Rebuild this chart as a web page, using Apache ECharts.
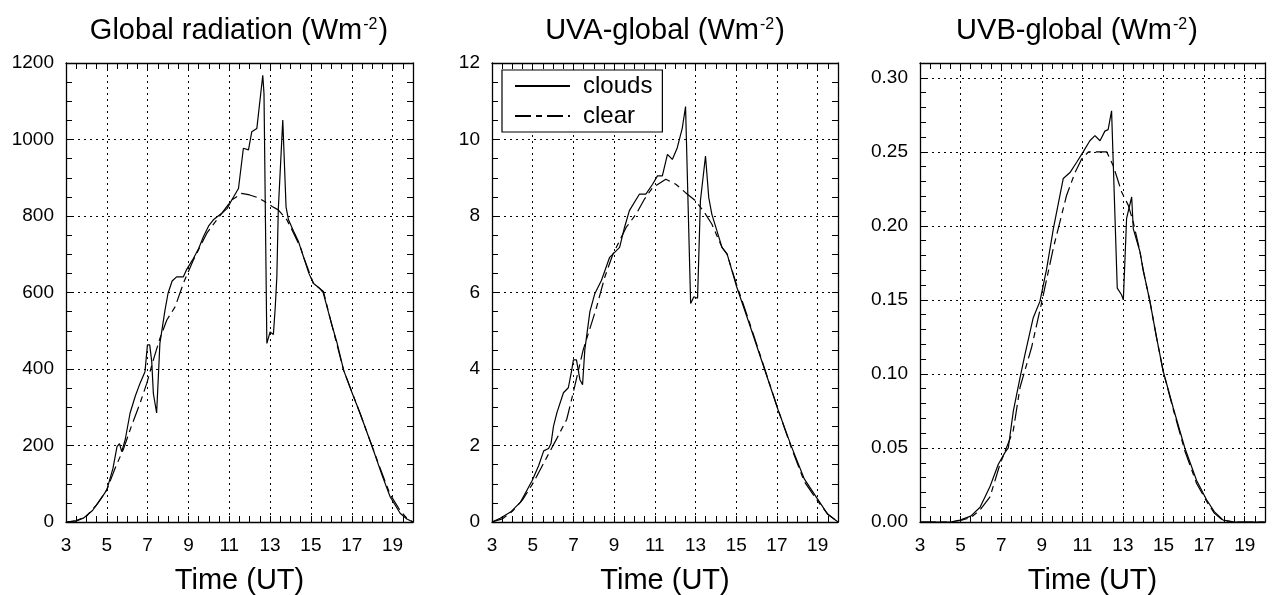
<!DOCTYPE html>
<html>
<head>
<meta charset="utf-8">
<script src="https://cdn.jsdelivr.net/npm/echarts@6/dist/echarts.min.js"></script>
<style>html,body{margin:0;padding:0;background:#fff}#c{width:1272px;height:595px}</style>
</head>
<body>
<div id="c"></div>
<script>
// ---------- DATA ----------
const titles = ['Global radiation (Wm', 'UVA-global (Wm', 'UVB-global (Wm'];
const seriesNames = ['clouds', 'clear'];

// Global radiation
const globCloudsT = [3.0,3.5,3.85,4.3,4.7,5.0,5.3,5.5,5.62,5.73,5.9,6.14,6.4,6.63,6.87,6.99,7.1,7.2,7.28,7.44,7.6,7.85,8.0,8.2,8.42,8.75,8.9,9.24,9.5,9.73,10.0,10.22,10.63,10.9,11.12,11.45,11.69,11.94,12.1,12.35,12.64,12.7,12.84,13.0,13.16,13.25,13.33,13.4,13.62,13.78,13.9,14.15,14.39,14.63,14.9,15.12,15.4,15.6,15.8,16.0,16.27,16.6,17.0,17.4,17.98,18.5,18.88,19.37,19.7,20.0];
const globCloudsV = [0,3,10,30,60,84,140,197,205,184,215,285,330,363,393,463,463,420,336,285,467,554,598,630,641,641,659,689,715,746,775,790,807,820,842,872,977,973,1020,1029,1168,1120,467,497,490,560,641,816,1051,824,790,760,733,694,650,624,612,600,560,520,470,397,340,285,200,120,66,23,8,0];
const globClearT = [3.0,3.5,4.0,4.5,5.0,5.4,5.81,6.2,6.63,6.96,7.28,7.6,7.94,8.35,8.75,9.24,9.9,10.63,11.12,11.6,12.0,12.4,12.75,13.1,13.4,13.82,14.15,14.5,14.63,15.12,15.61,16.0,16.6,17.4,17.98,18.5,18.88,19.37,19.7,20.0];
const globClearV = [0,3,15,45,84,140,190,250,311,363,424,480,528,563,624,685,755,807,842,859,855,848,837,825,816,790,755,716,694,624,603,520,397,285,200,125,72,30,10,0];

// UVA-global
const uvaCloudsT = [3.0,3.4,3.91,4.4,4.97,5.29,5.54,5.78,5.9,6.02,6.19,6.51,6.75,6.92,7.0,7.15,7.32,7.45,7.56,7.81,8.05,8.38,8.78,9.27,9.51,9.75,10.24,10.56,10.89,11.13,11.37,11.62,11.86,12.1,12.35,12.51,12.76,12.92,13.1,13.24,13.49,13.65,13.8,14.3,14.55,15.02,15.6,16.4,17.05,17.7,18.35,19.0,19.5,20.0];
const uvaCloudsV = [0,0.1,0.26,0.52,1.08,1.47,1.86,1.92,2.05,2.5,2.86,3.38,3.51,3.98,4.24,4.24,3.72,3.59,4.5,5.5,5.97,6.32,6.92,7.18,7.7,8.14,8.57,8.57,8.83,9.05,9.05,9.61,9.48,9.78,10.3,10.86,5.71,5.89,5.85,8.4,9.57,8.48,8.05,7.18,7.01,6.15,5.25,3.98,2.94,1.99,1.12,0.6,0.2,0];
const uvaClearT = [3.0,3.5,4.0,4.5,5.0,5.4,5.8,6.2,6.67,7.0,7.48,8.13,8.54,8.94,9.59,10.08,10.5,10.89,11.54,12.03,12.51,13.0,13.49,13.8,14.3,14.55,15.02,15.6,16.4,17.05,17.7,18.35,19.0,19.5,20.0];
const uvaClearV = [0,0.08,0.28,0.58,1.0,1.4,1.8,2.2,2.68,3.4,4.5,5.6,6.4,7.0,7.7,8.05,8.45,8.74,8.96,8.83,8.61,8.4,8.05,7.79,7.18,7.0,6.2,5.3,4.0,2.95,1.95,1.05,0.55,0.2,0];

// UVB-global
const uvbCloudsT = [3.0,4.0,4.5,4.97,5.5,5.96,6.45,6.86,7.19,7.35,7.6,7.93,8.17,8.58,8.91,9.24,9.57,10.06,10.39,10.72,11.04,11.37,11.62,11.87,12.11,12.27,12.44,12.72,12.93,13.02,13.18,13.43,13.51,13.84,14.0,14.33,14.65,14.98,15.48,16.05,16.63,17.12,17.5,17.94,18.5,20.0];
const uvbCloudsV = [0,0,0,0.0013,0.004,0.010,0.024,0.039,0.047,0.050,0.075,0.0975,0.113,0.138,0.149,0.171,0.198,0.232,0.236,0.243,0.25,0.2575,0.261,0.2575,0.264,0.265,0.2777,0.158,0.1535,0.150,0.205,0.2195,0.198,0.1825,0.170,0.149,0.125,0.102,0.077,0.05,0.028,0.015,0.007,0.0013,0,0];
const uvbClearT = [3.0,4.5,5.0,5.5,5.95,6.45,6.94,7.6,7.93,8.5,8.99,9.57,10.22,10.64,10.96,11.3,11.7,12.2,12.51,12.7,12.93,13.26,13.5,13.84,14.0,14.33,14.65,14.98,15.48,16.05,16.63,17.12,17.5,17.94,18.5,20.0];
const uvbClearV = [0,0,0.001,0.003,0.008,0.017,0.039,0.062,0.091,0.118,0.148,0.185,0.2205,0.236,0.245,0.25,0.25,0.25,0.241,0.233,0.223,0.214,0.203,0.1825,0.170,0.149,0.125,0.102,0.076,0.048,0.026,0.014,0.006,0.001,0,0];

// axis ranges / ticks
const xMin = 3, xMax = 20, xMajor = 2, xMinor = 0.5;
const yMax = [1200, 12, 0.31];
const yMajor = [200, 2, 0.05];
const yMinor = [50, 0.5, 0.01];
const yDecimals = [0, 0, 2];

// ---------- LAYOUT ----------
const FONT = 'Liberation Sans, Arial, Helvetica, sans-serif';
const gridBoxes = [
  {left: 66, top: 63, width: 347, height: 459},
  {left: 492, top: 63, width: 346, height: 459},
  {left: 920, top: 63, width: 345, height: 459}
];
const titleCenters = [239, 665, 1077];

const zip = (t, v) => t.map((x, i) => [x, v[i]]);
const panelData = [
  [zip(globCloudsT, globCloudsV), zip(globClearT, globClearV)],
  [zip(uvaCloudsT, uvaCloudsV), zip(uvaClearT, uvaClearV)],
  [zip(uvbCloudsT, uvbCloudsV), zip(uvbClearT, uvbClearV)]
];

const black = '#000';
const gridLine = {show: true, lineStyle: {color: black, width: 1, type: [2, 4]}};
const tickStyle = {color: black, width: 1};
const clearDash = [16, 5, 6, 5];

const xAxes = [], yAxes = [], series = [], graphics = [];
gridBoxes.forEach((g, i) => {
  // main bottom x axis: labels, grid lines
  xAxes.push({
    gridIndex: i, type: 'value', min: xMin, max: xMax, interval: xMajor, position: 'bottom',
    axisLine: {show: true, onZero: false, lineStyle: {color: black, width: 1.3}},
    axisTick: {show: false},
    axisLabel: {show: true, color: black, fontSize: 19, fontFamily: FONT, margin: 14, showMaxLabel: false},
    splitLine: gridLine,
    name: 'Time (UT)', nameLocation: 'middle', nameGap: 44,
    nameTextStyle: {color: black, fontSize: 29, fontFamily: FONT}
  });
  // bottom minor ticks
  xAxes.push({
    gridIndex: i, type: 'value', min: xMin, max: xMax, interval: xMinor, position: 'bottom',
    axisLine: {show: false, onZero: false}, axisTick: {show: true, inside: true, length: 6, lineStyle: tickStyle},
    axisLabel: {show: false}, splitLine: {show: false}
  });
  // top axis
  xAxes.push({
    gridIndex: i, type: 'value', min: xMin, max: xMax, interval: xMinor, position: 'top',
    axisLine: {show: true, onZero: false, lineStyle: {color: black, width: 1.3}},
    axisTick: {show: true, inside: true, length: 6, lineStyle: tickStyle},
    axisLabel: {show: false}, splitLine: {show: false}
  });
  // main left y axis
  const dec = yDecimals[i];
  yAxes.push({
    gridIndex: i, type: 'value', min: 0, max: yMax[i], interval: yMajor[i], position: 'left',
    axisLine: {show: true, onZero: false, lineStyle: {color: black, width: 1.3}},
    axisTick: {show: false},
    axisLabel: {show: true, color: black, fontSize: 19, fontFamily: FONT, margin: 12, showMaxLabel: i !== 2,
      formatter: v => Number(v).toFixed(dec)},
    splitLine: gridLine
  });
  yAxes.push({
    gridIndex: i, type: 'value', min: 0, max: yMax[i], interval: yMinor[i], position: 'left',
    axisLine: {show: false, onZero: false}, axisTick: {show: true, inside: true, length: 6, lineStyle: tickStyle},
    axisLabel: {show: false}, splitLine: {show: false}
  });
  yAxes.push({
    gridIndex: i, type: 'value', min: 0, max: yMax[i], interval: yMinor[i], position: 'right',
    axisLine: {show: true, onZero: false, lineStyle: {color: black, width: 1.3}},
    axisTick: {show: true, inside: true, length: 6, lineStyle: tickStyle},
    axisLabel: {show: false}, splitLine: {show: false}
  });

  series.push({
    name: seriesNames[0], type: 'line', xAxisIndex: 3 * i, yAxisIndex: 3 * i,
    data: panelData[i][0], showSymbol: false, symbol: 'none', smooth: false,
    lineStyle: {color: black, width: 1.2, type: 'solid'}, itemStyle: {color: black},
    animation: false, z: 3
  });
  series.push({
    name: seriesNames[1], type: 'line', xAxisIndex: 3 * i, yAxisIndex: 3 * i,
    data: panelData[i][1], showSymbol: false, symbol: 'none', smooth: false,
    lineStyle: {color: black, width: 1.2, type: clearDash}, itemStyle: {color: black},
    animation: false, z: 2
  });

  graphics.push({
    type: 'text', x: titleCenters[i], y: 31,
    style: {
      text: titles[i] + '{sup|-2})',
      fill: black, fontSize: 29, fontFamily: FONT,
      textAlign: 'center', textVerticalAlign: 'middle',
      rich: {sup: {fontSize: 16, fontFamily: FONT, fill: black, verticalAlign: 'top', padding: [0, 1, 12, 1]}}
    }
  });
});

const chart = echarts.init(document.getElementById('c'), null, {renderer: 'canvas'});
chart.setOption({
  backgroundColor: '#fff',
  animation: false,
  grid: gridBoxes.map(g => Object.assign({containLabel: false, outerBoundsMode: 'none'}, g)),
  xAxis: xAxes,
  yAxis: yAxes,
  legend: {
    data: seriesNames, orient: 'vertical', left: 502, top: 70,
    itemWidth: 55, itemHeight: 22, itemGap: 6,
    padding: [4, 10, 4, 12],
    itemStyle: {opacity: 0, borderWidth: 0},
    borderColor: black, borderWidth: 1.2, backgroundColor: '#fff',
    textStyle: {color: black, fontSize: 24, fontFamily: FONT, padding: [0, 0, 0, 8]},
    selectedMode: false
  },
  graphic: graphics,
  series: series
});
</script>
</body>
</html>
